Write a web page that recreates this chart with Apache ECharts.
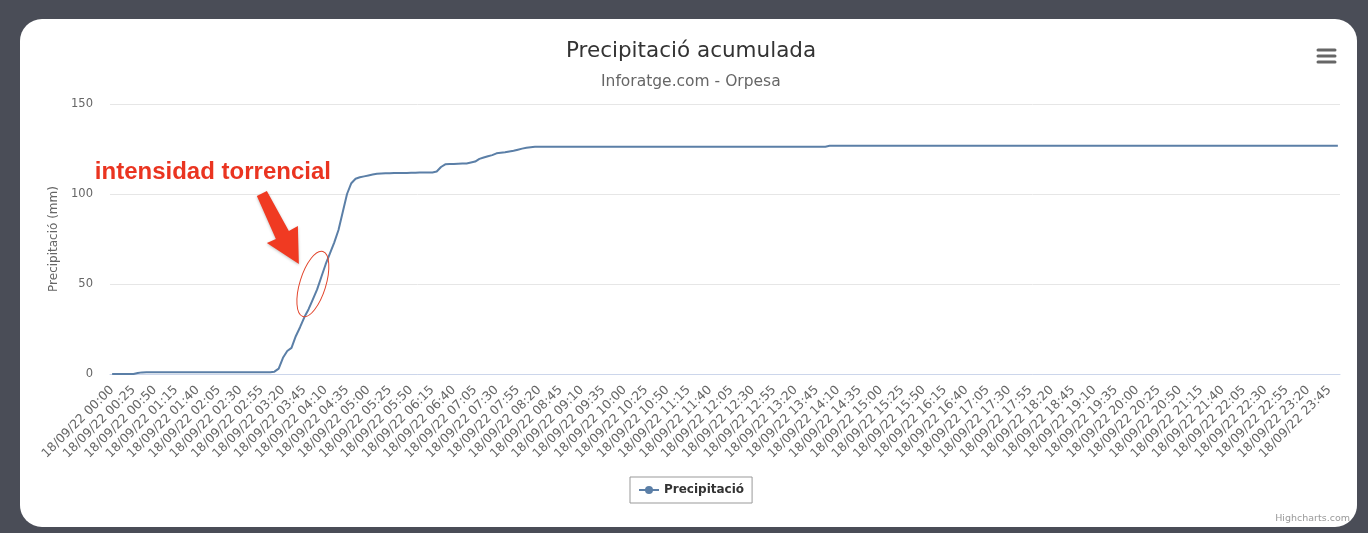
<!DOCTYPE html>
<html>
<head>
<meta charset="utf-8">
<title>Precipitació acumulada</title>
<script src="https://cdn.jsdelivr.net/npm/echarts@6/dist/echarts.min.js"></script>
<style>
  html, body { margin: 0; padding: 0; background: #4a4d57; }
  #panell { position: absolute; left: 20px; top: 19px; width: 1337px; height: 508px; background: #fff; border-radius: 22px; }
  #chart { position: absolute; left: 0; top: 0; width: 1368px; height: 533px; }
</style>
</head>
<body>
<div id="panell"></div>
<div id="chart"></div>
<script>
// dia i pas de les lectures (una cada 5 minuts)
const dia = "18/09/22";
const pasMinuts = 5;
const numLectures = 288;

// precipitació acumulada (mm), una fila per hora (12 lectures)
const precipitacio = [
  0, 0, 0, 0, 0, 0, 0.5, 0.9, 1, 1, 1, 1,                                      // 00h
  1, 1, 1, 1, 1, 1, 1, 1, 1, 1, 1, 1,                                          // 01h
  1, 1, 1, 1, 1, 1, 1, 1, 1, 1, 1, 1,                                          // 02h
  1, 1, 1.3, 3, 9, 12.8, 14.5, 21, 26, 31.5, 36, 41.5,                         // 03h
  47, 54, 61, 67, 73, 80, 90, 100, 106, 108.5, 109.3, 109.8,                   // 04h
  110.3, 110.8, 111.2, 111.4, 111.5, 111.5, 111.6, 111.6, 111.7, 111.7, 111.8, 111.8, // 05h
  111.9, 111.9, 111.9, 112, 112.5, 115, 116.5, 116.6, 116.7, 116.8, 116.9, 117,      // 06h
  117.5, 118, 119.5, 120.3, 121, 121.6, 122.6, 122.9, 123.2, 123.6, 124, 124.6,      // 07h
  125.2, 125.7, 126, 126.2, 126.3, 126.3, 126.3, 126.3, 126.3, 126.3, 126.3, 126.3,  // 08h
  126.3, 126.3, 126.3, 126.3, 126.3, 126.3, 126.3, 126.3, 126.3, 126.3, 126.3, 126.3, // 09h
  126.3, 126.3, 126.3, 126.3, 126.3, 126.3, 126.3, 126.3, 126.3, 126.3, 126.3, 126.3, // 10h
  126.3, 126.3, 126.3, 126.3, 126.3, 126.3, 126.3, 126.3, 126.3, 126.3, 126.3, 126.3, // 11h
  126.3, 126.3, 126.3, 126.3, 126.3, 126.3, 126.3, 126.3, 126.3, 126.3, 126.3, 126.3, // 12h
  126.3, 126.3, 126.3, 126.3, 126.3, 126.3, 126.3, 126.3, 126.3, 126.3, 126.3, 126.3, // 13h
  126.8, 126.8, 126.8, 126.8, 126.8, 126.8, 126.8, 126.8, 126.8, 126.8, 126.8, 126.8, // 14h
  126.8, 126.8, 126.8, 126.8, 126.8, 126.8, 126.8, 126.8, 126.8, 126.8, 126.8, 126.8, // 15h
  126.8, 126.8, 126.8, 126.8, 126.8, 126.8, 126.8, 126.8, 126.8, 126.8, 126.8, 126.8, // 16h
  126.8, 126.8, 126.8, 126.8, 126.8, 126.8, 126.8, 126.8, 126.8, 126.8, 126.8, 126.8, // 17h
  126.8, 126.8, 126.8, 126.8, 126.8, 126.8, 126.8, 126.8, 126.8, 126.8, 126.8, 126.8, // 18h
  126.8, 126.8, 126.8, 126.8, 126.8, 126.8, 126.8, 126.8, 126.8, 126.8, 126.8, 126.8, // 19h
  126.8, 126.8, 126.8, 126.8, 126.8, 126.8, 126.8, 126.8, 126.8, 126.8, 126.8, 126.8, // 20h
  126.8, 126.8, 126.8, 126.8, 126.8, 126.8, 126.8, 126.8, 126.8, 126.8, 126.8, 126.8, // 21h
  126.8, 126.8, 126.8, 126.8, 126.8, 126.8, 126.8, 126.8, 126.8, 126.8, 126.8, 126.8, // 22h
  126.8, 126.8, 126.8, 126.8, 126.8, 126.8, 126.8, 126.8, 126.8, 126.8, 126.8, 126.8  // 23h
];

// eix Y
const yMin = 0;
const yMax = 150;
const yInterval = 50;

// punt on es marca la "intensitat torrencial" (index de lectura, mm)
const puntTorrencial = [47, 50];

// categories de l'eix X: "18/09/22 HH:MM"
const hores = [];
for (let i = 0; i < numLectures; i++) {
  const m = i * pasMinuts;
  const hh = String(Math.floor(m / 60)).padStart(2, "0");
  const mm = String(m % 60).padStart(2, "0");
  hores.push(dia + " " + hh + ":" + mm);
}

const font = "'DejaVu Sans', 'Lucida Grande', Verdana, sans-serif";
const colorLinia = "#5b7fa7";

const chart = echarts.init(document.getElementById("chart"));

const option = {
  animation: false,
  backgroundColor: "transparent",
  textStyle: { fontFamily: font },
  title: [
    {
      text: "Precipitació acumulada",
      left: 561,
      top: 35,
      textStyle: { fontFamily: font, fontSize: 21.5, fontWeight: "normal", color: "#333" }
    },
    {
      text: "Inforatge.com - Orpesa",
      left: 596,
      top: 69,
      textStyle: { fontFamily: font, fontSize: 15.5, fontWeight: "normal", color: "#666" }
    }
  ],
  legend: {
    left: 630,
    top: 477,
    borderColor: "#999",
    borderWidth: 1,
    padding: [7, 8, 7, 8],
    itemWidth: 20,
    itemHeight: 10,
    itemGap: 5,
    textStyle: { fontFamily: font, fontSize: 12, fontWeight: "bold", color: "#333" },
    data: ["Precipitació"]
  },
  grid: { left: 110, right: 28, top: 104, bottom: 159 },
  xAxis: {
    type: "category",
    data: hores,
    boundaryGap: true,
    axisLine: { lineStyle: { color: "#ccd6eb" } },
    axisTick: { show: false },
    axisLabel: {
      interval: 4,
      rotate: 45,
      margin: 14,
      fontFamily: font,
      fontSize: 12.5,
      color: "#666"
    }
  },
  yAxis: {
    type: "value",
    min: yMin,
    max: yMax,
    interval: yInterval,
    name: "Precipitació (mm)",
    nameLocation: "middle",
    nameGap: 50,
    nameTextStyle: { fontFamily: font, fontSize: 12, color: "#666" },
    axisLine: { show: false },
    axisTick: { show: false },
    axisLabel: { margin: 17, fontFamily: font, fontSize: 11.5, color: "#666" },
    splitLine: { lineStyle: { color: "#e6e6e6" } }
  },
  series: [{
    name: "Precipitació",
    type: "line",
    data: precipitacio,
    showSymbol: false,
    symbol: "circle",
    symbolSize: 8,
    itemStyle: { color: colorLinia },
    lineStyle: { color: colorLinia, width: 2 }
  }]
};

chart.setOption(option);

// anotació: fletxa, el·lipse i text, situats respecte del punt de la corba
const c = chart.convertToPixel({ xAxisIndex: 0, yAxisIndex: 0 }, puntTorrencial);
const fletxa = [[-56, -88], [-46, -93], [-24, -53], [-15, -58], [-14, -20], [-46, -41], [-37, -45]]
  .map(function (p) { return [c[0] + p[0], c[1] + p[1]]; });

const menu = [0, 6, 12].map(function (dy, i) {
  return {
    id: "menu" + i,
    type: "line",
    shape: { x1: 1318, y1: 50 + dy, x2: 1335, y2: 50 + dy },
    style: { stroke: "#666", lineWidth: 3, lineCap: "round" },
    z: 100
  };
});

chart.setOption({
  graphic: menu.concat([
    {
      id: "credits",
      type: "text",
      x: 1350, y: 519,
      style: { text: "Highcharts.com", font: "9.5px " + font, fill: "#999", align: "right", verticalAlign: "middle" },
      z: 100
    },
    {
      id: "fletxa",
      type: "polygon",
      shape: { points: fletxa },
      style: { fill: "#f03a22", shadowColor: "rgba(0,0,0,0.25)", shadowBlur: 3, shadowOffsetY: 1 },
      z: 100
    },
    {
      id: "elipse",
      type: "ellipse",
      x: c[0], y: c[1],
      rotation: -0.3,
      shape: { cx: 0, cy: 0, rx: 13, ry: 34 },
      style: { fill: "none", stroke: "#e2452c", lineWidth: 1 },
      z: 100
    },
    {
      id: "textTorrencial",
      type: "text",
      x: c[0] - 218, y: c[1] - 112,
      style: {
        text: "intensidad torrencial",
        font: "bold 24px 'Liberation Sans', Arial, sans-serif",
        fill: "#ea3420",
        stroke: "#fff",
        lineWidth: 2,
        verticalAlign: "middle",
        shadowColor: "rgba(0,0,0,0.3)",
        shadowBlur: 3,
        shadowOffsetY: 1
      },
      z: 100
    }
  ])
});
</script>
</body>
</html>
